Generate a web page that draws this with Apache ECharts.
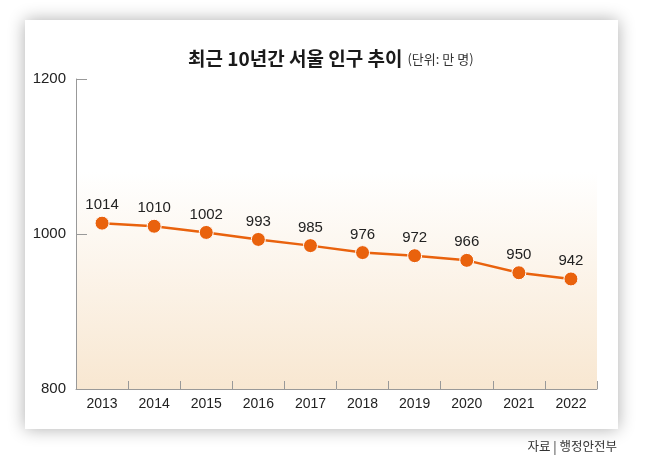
<!DOCTYPE html>
<html>
<head>
<meta charset="utf-8">
<script src="https://cdn.jsdelivr.net/npm/echarts@6/dist/echarts.min.js"></script>
<style>
html,body{margin:0;padding:0;background:#fff;width:650px;height:459px;overflow:hidden;}
#card{position:absolute;left:25px;top:20px;width:593px;height:409px;background:#fff;box-shadow:0 0 16px rgba(0,0,0,0.32);}
#chart{position:absolute;left:0;top:0;width:650px;height:459px;}
</style>
</head>
<body>
<div id="card"></div>
<div id="chart"></div>
<script>
const titleMain = '최근 10년간 서울 인구 추이';
const titleUnit = '(단위: 만 명)';
const sourceText = '자료 | 행정안전부';
const years = ['2013','2014','2015','2016','2017','2018','2019','2020','2021','2022'];
const population = [1014, 1010, 1002, 993, 985, 976, 972, 966, 950, 942];
const yMin = 800, yMax = 1200, yStep = 200;

const numFont = "'Liberation Sans Narrow', 'Liberation Sans', sans-serif";
const krFont = "'Noto Sans CJK KR', sans-serif";

const chart = echarts.init(document.getElementById('chart'), null, {renderer:'canvas'});
chart.setOption({
  backgroundColor: 'transparent',
  animation: false,
  title: {
    text: '{a|' + titleMain + '} {b|' + titleUnit + '}',
    left: 183,
    top: 41,
    textStyle: {
      rich: {
        a: {fontFamily: krFont, fontWeight: 'bold', fontSize: 19, color: '#1a1a1a', lineHeight: 26},
        b: {fontFamily: krFont, fontWeight: 'normal', fontSize: 13, color: '#333', lineHeight: 26}
      }
    }
  },
  graphic: [{
    type: 'text',
    right: 33,
    top: 440,
    style: {text: sourceText, font: '12.5px ' + krFont, fill: '#333'}
  }],
  grid: {
    left: 76, right: 53, top: 79, bottom: 70,
    show: true,
    borderWidth: 0,
    backgroundColor: {
      type: 'linear', x: 0, y: 0, x2: 0, y2: 1,
      colorStops: [
        {offset: 0, color: '#ffffff'},
        {offset: 0.3, color: '#ffffff'},
        {offset: 1, color: '#F8E7D1'}
      ]
    }
  },
  xAxis: {
    type: 'category',
    data: years,
    boundaryGap: true,
    axisLine: {lineStyle: {color: '#999', width: 1}},
    axisTick: {show: true, inside: true, length: 8, interval: 0, lineStyle: {color: '#999'}},
    axisLabel: {fontFamily: numFont, fontSize: 14, color: '#222', margin: 8, interval: 0},
    splitLine: {show: false}
  },
  yAxis: {
    type: 'value',
    min: yMin, max: yMax, interval: yStep,
    axisLine: {show: true, lineStyle: {color: '#999', width: 1}},
    axisTick: {show: true, inside: true, length: 11, lineStyle: {color: '#999'}},
    axisLabel: {fontFamily: numFont, fontSize: 15, color: '#222', margin: 10, formatter: v => String(v)},
    splitLine: {show: false}
  },
  series: [{
    type: 'line',
    data: population,
    symbol: 'circle',
    symbolSize: 14,
    lineStyle: {color: '#E9620D', width: 2.5},
    itemStyle: {color: '#E9620D', borderColor: '#fff', borderWidth: 1},
    label: {
      show: true, position: 'top', distance: 3,
      fontFamily: numFont, fontSize: 15, color: '#222'
    }
  }]
});
</script>
</body>
</html>
